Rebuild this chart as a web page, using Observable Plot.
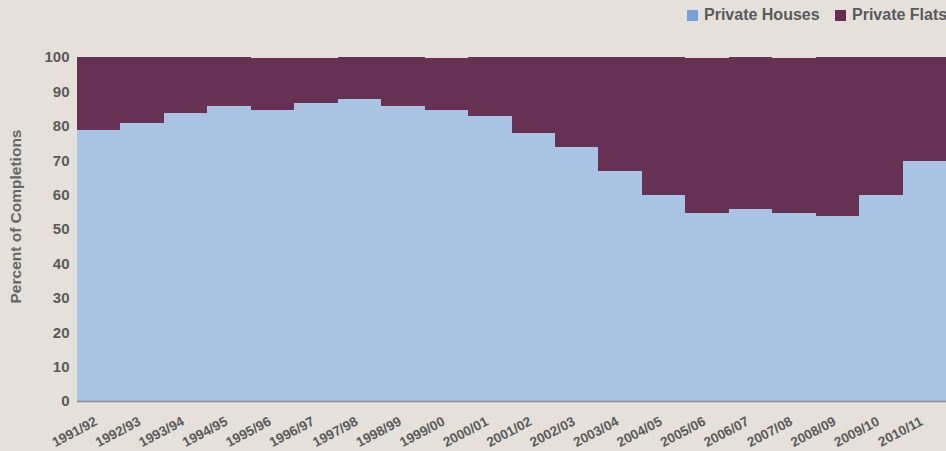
<!DOCTYPE html>
<html>
<head>
<meta charset="utf-8">
<script src="https://cdn.jsdelivr.net/npm/d3@7"></script>
<script src="https://cdn.jsdelivr.net/npm/@observablehq/plot@0.6"></script>
<style>
  html, body { margin: 0; padding: 0; background: #e5e1da; overflow: hidden; width: 946px; height: 451px; }
  #legend { position: relative; height: 36px; width: 946px; font-family: "Liberation Sans", Arial, sans-serif; font-weight: bold; font-size: 16px; color: #5a5a5a; white-space: nowrap; }
  #legend .item { position: absolute; top: 6px; }
  #legend .sw { display: inline-block; width: 11px; height: 11px; margin-right: 6px; vertical-align: -1px; }
  svg { display: block; }
</style>
</head>
<body>
<div id="legend"></div>
<div id="chart"></div>
<script>
const years = ["1991/92","1992/93","1993/94","1994/95","1995/96","1996/97","1997/98","1998/99","1999/00","2000/01","2001/02","2002/03","2003/04","2004/05","2005/06","2006/07","2007/08","2008/09","2009/10","2010/11"];
const privateHouses = [78.7, 80.7, 83.7, 85.7, 84.6, 86.6, 87.7, 85.7, 84.6, 82.9, 77.9, 73.8, 66.9, 59.9, 54.6, 55.8, 54.6, 53.8, 59.9, 69.8];
const privateFlats  = [21.3, 19.3, 16.3, 14.3, 15.1, 13.1, 12.3, 14.3, 15.1, 17.1, 22.1, 26.2, 33.1, 40.1, 45.1, 44.2, 45.1, 46.2, 40.1, 30.2];
const seriesNames = ["Private Houses", "Private Flats"];
const areaColors = ["#a9c4e2", "#673153"];
const legendColors = ["#74a1d6", "#6a2d52"];
const yTicks = [0,10,20,30,40,50,60,70,80,90,100];

const rows = [];
years.forEach((y, i) => {
  rows.push({year: y, series: seriesNames[0], value: privateHouses[i]});
  rows.push({year: y, series: seriesNames[1], value: privateFlats[i]});
});

// legend
const legend = document.getElementById("legend");
const lefts = [687, 835];
seriesNames.forEach((s, i) => {
  const d = document.createElement("div");
  d.className = "item";
  d.style.left = lefts[i] + "px";
  d.innerHTML = `<span class="sw" style="background:${legendColors[i]}"></span>${s}`;
  legend.appendChild(d);
});

const chart = Plot.plot({
  width: 946,
  height: 415,
  marginTop: 21,
  marginBottom: 50,
  marginLeft: 77,
  marginRight: 0,
  style: {background: "transparent", fontFamily: "'Liberation Sans', Arial, sans-serif", color: "#5a5a5a"},
  x: {type: "band", domain: years, padding: 0, round: false, label: null},
  y: {domain: [0, 100], label: null},
  color: {domain: seriesNames, range: areaColors},
  marks: [
    Plot.barY(rows, {x: "year", y: "value", fill: "series", order: seriesNames, inset: 0, shapeRendering: "crispEdges"}),
    Plot.ruleY([0], {stroke: "#8a8a8a", strokeWidth: 1.5}),
    Plot.axisY({ticks: yTicks, tickSize: 0, tickPadding: 8, fontSize: 15, fontWeight: "bold", line: true, stroke: "#8a8a8a", strokeWidth: 1.5, label: null}),
    Plot.axisX({tickSize: 0, tickPadding: 19, dx: -3, tickRotate: -28, fontSize: 13.5, fontWeight: "bold", label: null}),
    Plot.text(["Percent of Completions"], {frameAnchor: "left", textAnchor: "middle", rotate: -90, dx: -61, dy: -13, fontSize: 15.5, fontWeight: "bold", fill: "#666"})
  ]
});
document.getElementById("chart").appendChild(chart);
</script>
</body>
</html>
